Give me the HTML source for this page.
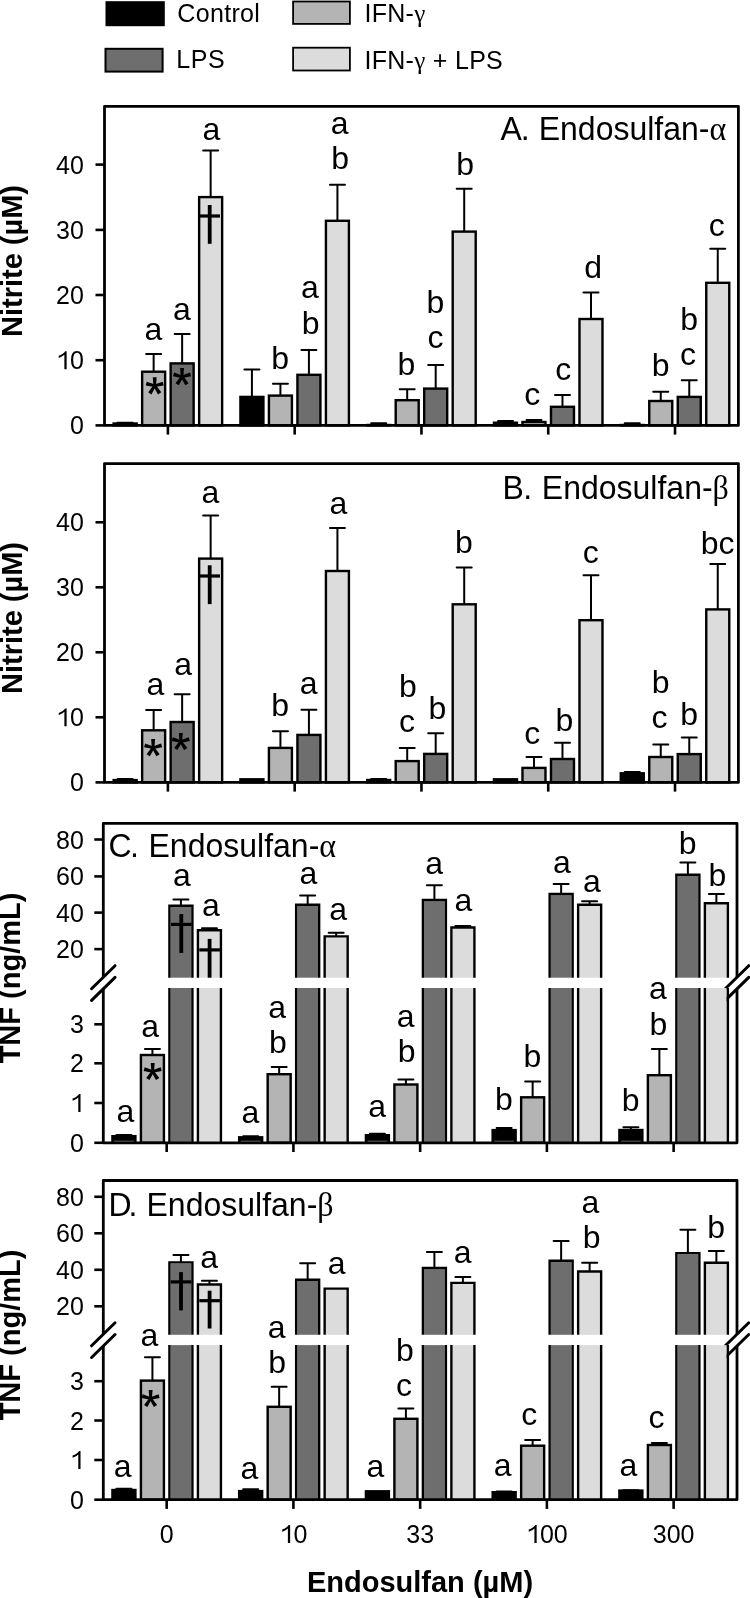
<!DOCTYPE html><html><head><meta charset="utf-8"><style>html,body{margin:0;padding:0;background:#fff;}svg{display:block;will-change:transform;}</style></head><body>
<svg width="750" height="1598" viewBox="0 0 750 1598" font-family='"Liberation Sans", sans-serif'>
<rect width="750" height="1598" fill="#fff"/>
<rect x="106.5" y="2.2" width="57.3" height="23" fill="#000" stroke="#000" stroke-width="2"/>
<rect x="105.5" y="48.8" width="57.1" height="22.8" fill="#6e6e6e" stroke="#000" stroke-width="2"/>
<rect x="293.1" y="1.5" width="56.8" height="22.4" fill="#b4b4b4" stroke="#000" stroke-width="1.8"/>
<rect x="293.1" y="47.7" width="56.8" height="22.8" fill="#dcdcdc" stroke="#000" stroke-width="1.8"/>
<text x="177.3" y="22" font-size="25" letter-spacing="0.33">Control</text>
<text x="176.3" y="68" font-size="25" letter-spacing="0.5">LPS</text>
<text x="364.4" y="22.2" font-size="25" letter-spacing="0.3">IFN-<tspan font-family="Liberation Serif, serif">γ</tspan></text>
<text x="364.4" y="69" font-size="25" letter-spacing="0.3">IFN-<tspan font-family="Liberation Serif, serif">γ</tspan> + LPS</text>
<path d="M125.14 423.5V422.8" stroke="#000" stroke-width="2" fill="none"/><path d="M117.64 422.8H132.64" stroke="#000" stroke-width="2" stroke-linecap="round" fill="none"/>
<rect x="113.64" y="423.5" width="23" height="1.9" fill="#000000" stroke="#000" stroke-width="2.4"/>
<path d="M153.64 371.7V354.1" stroke="#000" stroke-width="2" fill="none"/><path d="M146.14 354.1H161.14" stroke="#000" stroke-width="2" stroke-linecap="round" fill="none"/>
<rect x="142.14" y="371.7" width="23" height="53.7" fill="#b4b4b4" stroke="#000" stroke-width="2.4"/>
<path d="M182.14 363.4V334.1" stroke="#000" stroke-width="2" fill="none"/><path d="M174.64 334.1H189.64" stroke="#000" stroke-width="2" stroke-linecap="round" fill="none"/>
<rect x="170.64" y="363.4" width="23" height="62" fill="#6e6e6e" stroke="#000" stroke-width="2.4"/>
<path d="M210.64 197.1V150.6" stroke="#000" stroke-width="2" fill="none"/><path d="M203.14 150.6H218.14" stroke="#000" stroke-width="2" stroke-linecap="round" fill="none"/>
<rect x="199.14" y="197.1" width="23" height="228.3" fill="#dcdcdc" stroke="#000" stroke-width="2.4"/>
<path d="M251.92 396.9V369.6" stroke="#000" stroke-width="2" fill="none"/><path d="M244.42 369.6H259.42" stroke="#000" stroke-width="2" stroke-linecap="round" fill="none"/>
<rect x="240.42" y="396.9" width="23" height="28.5" fill="#000000" stroke="#000" stroke-width="2.4"/>
<path d="M280.42 395.6V383.7" stroke="#000" stroke-width="2" fill="none"/><path d="M272.92 383.7H287.92" stroke="#000" stroke-width="2" stroke-linecap="round" fill="none"/>
<rect x="268.92" y="395.6" width="23" height="29.8" fill="#b4b4b4" stroke="#000" stroke-width="2.4"/>
<path d="M308.92 374.8V350" stroke="#000" stroke-width="2" fill="none"/><path d="M301.42 350H316.42" stroke="#000" stroke-width="2" stroke-linecap="round" fill="none"/>
<rect x="297.42" y="374.8" width="23" height="50.6" fill="#6e6e6e" stroke="#000" stroke-width="2.4"/>
<path d="M337.42 220.8V184.7" stroke="#000" stroke-width="2" fill="none"/><path d="M329.92 184.7H344.92" stroke="#000" stroke-width="2" stroke-linecap="round" fill="none"/>
<rect x="325.92" y="220.8" width="23" height="204.6" fill="#dcdcdc" stroke="#000" stroke-width="2.4"/>
<path d="M378.7 425V423.2" stroke="#000" stroke-width="2" fill="none"/><path d="M371.2 423.2H386.2" stroke="#000" stroke-width="2" stroke-linecap="round" fill="none"/>
<rect x="367.2" y="425" width="23" height="0.4" fill="#000000" stroke="#000" stroke-width="2.4"/>
<path d="M407.2 400.2V389.3" stroke="#000" stroke-width="2" fill="none"/><path d="M399.7 389.3H414.7" stroke="#000" stroke-width="2" stroke-linecap="round" fill="none"/>
<rect x="395.7" y="400.2" width="23" height="25.2" fill="#b4b4b4" stroke="#000" stroke-width="2.4"/>
<path d="M435.7 388.6V365.1" stroke="#000" stroke-width="2" fill="none"/><path d="M428.2 365.1H443.2" stroke="#000" stroke-width="2" stroke-linecap="round" fill="none"/>
<rect x="424.2" y="388.6" width="23" height="36.8" fill="#6e6e6e" stroke="#000" stroke-width="2.4"/>
<path d="M464.2 231.6V188.8" stroke="#000" stroke-width="2" fill="none"/><path d="M456.7 188.8H471.7" stroke="#000" stroke-width="2" stroke-linecap="round" fill="none"/>
<rect x="452.7" y="231.6" width="23" height="193.8" fill="#dcdcdc" stroke="#000" stroke-width="2.4"/>
<path d="M505.48 422.7V421.1" stroke="#000" stroke-width="2" fill="none"/><path d="M497.98 421.1H512.98" stroke="#000" stroke-width="2" stroke-linecap="round" fill="none"/>
<rect x="493.98" y="422.7" width="23" height="2.7" fill="#000000" stroke="#000" stroke-width="2.4"/>
<path d="M533.98 422V420.1" stroke="#000" stroke-width="2" fill="none"/><path d="M526.48 420.1H541.48" stroke="#000" stroke-width="2" stroke-linecap="round" fill="none"/>
<rect x="522.48" y="422" width="23" height="3.4" fill="#b4b4b4" stroke="#000" stroke-width="2.4"/>
<path d="M562.48 406.8V395" stroke="#000" stroke-width="2" fill="none"/><path d="M554.98 395H569.98" stroke="#000" stroke-width="2" stroke-linecap="round" fill="none"/>
<rect x="550.98" y="406.8" width="23" height="18.6" fill="#6e6e6e" stroke="#000" stroke-width="2.4"/>
<path d="M590.98 319V292.6" stroke="#000" stroke-width="2" fill="none"/><path d="M583.48 292.6H598.48" stroke="#000" stroke-width="2" stroke-linecap="round" fill="none"/>
<rect x="579.48" y="319" width="23" height="106.4" fill="#dcdcdc" stroke="#000" stroke-width="2.4"/>
<path d="M632.26 425V423.2" stroke="#000" stroke-width="2" fill="none"/><path d="M624.76 423.2H639.76" stroke="#000" stroke-width="2" stroke-linecap="round" fill="none"/>
<rect x="620.76" y="425" width="23" height="0.4" fill="#000000" stroke="#000" stroke-width="2.4"/>
<path d="M660.76 401V391.7" stroke="#000" stroke-width="2" fill="none"/><path d="M653.26 391.7H668.26" stroke="#000" stroke-width="2" stroke-linecap="round" fill="none"/>
<rect x="649.26" y="401" width="23" height="24.4" fill="#b4b4b4" stroke="#000" stroke-width="2.4"/>
<path d="M689.26 396.9V380.2" stroke="#000" stroke-width="2" fill="none"/><path d="M681.76 380.2H696.76" stroke="#000" stroke-width="2" stroke-linecap="round" fill="none"/>
<rect x="677.76" y="396.9" width="23" height="28.5" fill="#6e6e6e" stroke="#000" stroke-width="2.4"/>
<path d="M717.76 282.8V248.8" stroke="#000" stroke-width="2" fill="none"/><path d="M710.26 248.8H725.26" stroke="#000" stroke-width="2" stroke-linecap="round" fill="none"/>
<rect x="706.26" y="282.8" width="23" height="142.6" fill="#dcdcdc" stroke="#000" stroke-width="2.4"/>
<text x="153.44" y="340.4" text-anchor="middle" font-size="32">a</text>
<text x="181.94" y="320.4" text-anchor="middle" font-size="32">a</text>
<text x="211.44" y="140" text-anchor="middle" font-size="32">a</text>
<text x="280.22" y="369.3" text-anchor="middle" font-size="32">b</text>
<text x="310.62" y="334.2" text-anchor="middle" font-size="32">b</text>
<text x="309.82" y="298" text-anchor="middle" font-size="32">a</text>
<text x="340.12" y="168.9" text-anchor="middle" font-size="32">b</text>
<text x="339.62" y="133.8" text-anchor="middle" font-size="32">a</text>
<text x="406.3" y="374.5" text-anchor="middle" font-size="32">b</text>
<text x="435.5" y="347.5" text-anchor="middle" font-size="32">c</text>
<text x="435.5" y="312.5" text-anchor="middle" font-size="32">b</text>
<text x="465.1" y="175.1" text-anchor="middle" font-size="32">b</text>
<text x="532.28" y="405.4" text-anchor="middle" font-size="32">c</text>
<text x="563.28" y="379.6" text-anchor="middle" font-size="32">c</text>
<text x="593.08" y="278.4" text-anchor="middle" font-size="32">d</text>
<text x="660.56" y="375.5" text-anchor="middle" font-size="32">b</text>
<text x="688.06" y="365.1" text-anchor="middle" font-size="32">c</text>
<text x="689.06" y="329.5" text-anchor="middle" font-size="32">b</text>
<text x="716.76" y="236" text-anchor="middle" font-size="32">c</text>
<polygon points="156,385.8 153.4,385.8 152.75,377.2 156.65,377.2" fill="#000"/><polygon points="155.04,387.06 154.36,384.54 162.7,381.64 163.7,385.41" fill="#000"/><polygon points="155.04,384.54 154.36,387.06 145.7,385.41 146.7,381.64" fill="#000"/><polygon points="153.61,386.51 155.79,385.09 161.24,392.29 157.97,394.41" fill="#000"/><polygon points="153.61,385.09 155.79,386.51 151.43,394.41 148.16,392.29" fill="#000"/>
<polygon points="183.35,376.7 180.75,376.7 180.1,368.1 184,368.1" fill="#000"/><polygon points="182.39,377.96 181.71,375.44 190.05,372.54 191.05,376.31" fill="#000"/><polygon points="182.39,375.44 181.71,377.96 173.05,376.31 174.05,372.54" fill="#000"/><polygon points="180.96,377.41 183.14,375.99 188.59,383.19 185.32,385.31" fill="#000"/><polygon points="180.96,375.99 183.14,377.41 178.78,385.31 175.51,383.19" fill="#000"/>
<rect x="207.8" y="205" width="3.8" height="38.8" fill="#000"/>
<rect x="199.4" y="214.4" width="20.6" height="3.2" fill="#000"/>
<rect x="104.5" y="106.4" width="633.9" height="319" fill="none" stroke="#000" stroke-width="2.8" stroke-linejoin="round"/>
<line x1="95.5" y1="425.4" x2="104.5" y2="425.4" stroke="#000" stroke-width="2.6"/>
<text x="69.9" y="434.4" font-size="25">0</text>
<line x1="95.5" y1="360.2" x2="104.5" y2="360.2" stroke="#000" stroke-width="2.6"/>
<polygon points="64.38,369.2 66.62,369.2 66.62,351.3 65.17,351.3 64.25,352.5 62.75,353.77 60.75,355 58.7,355.82 58.7,357.9 60.5,357.2 62.5,356.07 64.38,354.65" fill="#000"/><text x="69.9" y="369.2" font-size="25">0</text>
<line x1="95.5" y1="295" x2="104.5" y2="295" stroke="#000" stroke-width="2.6"/>
<text x="56" y="304" font-size="25">2</text><text x="69.9" y="304" font-size="25">0</text>
<line x1="95.5" y1="229.9" x2="104.5" y2="229.9" stroke="#000" stroke-width="2.6"/>
<text x="56" y="238.9" font-size="25">3</text><text x="69.9" y="238.9" font-size="25">0</text>
<line x1="95.5" y1="164.6" x2="104.5" y2="164.6" stroke="#000" stroke-width="2.6"/>
<text x="56" y="173.6" font-size="25">4</text><text x="69.9" y="173.6" font-size="25">0</text>
<line x1="167.89" y1="425.4" x2="167.89" y2="434.6" stroke="#000" stroke-width="2.6"/>
<line x1="294.67" y1="425.4" x2="294.67" y2="434.6" stroke="#000" stroke-width="2.6"/>
<line x1="421.45" y1="425.4" x2="421.45" y2="434.6" stroke="#000" stroke-width="2.6"/>
<line x1="548.23" y1="425.4" x2="548.23" y2="434.6" stroke="#000" stroke-width="2.6"/>
<line x1="675.01" y1="425.4" x2="675.01" y2="434.6" stroke="#000" stroke-width="2.6"/>
<text transform="translate(500.6 139.5) scale(0.97 1)" font-size="33">A</text>
<text transform="translate(520.8 139.5) scale(0.97 1)" font-size="33">.</text>
<text transform="translate(538.7 139.5) scale(0.97 1)" font-size="33">Endosulfan-<tspan font-family='Liberation Serif, serif'>α</tspan></text>
<path d="M125.14 780.1V779.1" stroke="#000" stroke-width="2" fill="none"/><path d="M117.64 779.1H132.64" stroke="#000" stroke-width="2" stroke-linecap="round" fill="none"/>
<rect x="113.64" y="780.1" width="23" height="2.3" fill="#000000" stroke="#000" stroke-width="2.4"/>
<path d="M153.64 730.3V710.1" stroke="#000" stroke-width="2" fill="none"/><path d="M146.14 710.1H161.14" stroke="#000" stroke-width="2" stroke-linecap="round" fill="none"/>
<rect x="142.14" y="730.3" width="23" height="52.1" fill="#b4b4b4" stroke="#000" stroke-width="2.4"/>
<path d="M182.14 722V694.2" stroke="#000" stroke-width="2" fill="none"/><path d="M174.64 694.2H189.64" stroke="#000" stroke-width="2" stroke-linecap="round" fill="none"/>
<rect x="170.64" y="722" width="23" height="60.4" fill="#6e6e6e" stroke="#000" stroke-width="2.4"/>
<path d="M210.64 558.6V515.5" stroke="#000" stroke-width="2" fill="none"/><path d="M203.14 515.5H218.14" stroke="#000" stroke-width="2" stroke-linecap="round" fill="none"/>
<rect x="199.14" y="558.6" width="23" height="223.8" fill="#dcdcdc" stroke="#000" stroke-width="2.4"/>
<rect x="240.42" y="779.3" width="23" height="3.1" fill="#000000" stroke="#000" stroke-width="2.4"/>
<path d="M280.42 747.9V731.2" stroke="#000" stroke-width="2" fill="none"/><path d="M272.92 731.2H287.92" stroke="#000" stroke-width="2" stroke-linecap="round" fill="none"/>
<rect x="268.92" y="747.9" width="23" height="34.5" fill="#b4b4b4" stroke="#000" stroke-width="2.4"/>
<path d="M308.92 734.9V709.7" stroke="#000" stroke-width="2" fill="none"/><path d="M301.42 709.7H316.42" stroke="#000" stroke-width="2" stroke-linecap="round" fill="none"/>
<rect x="297.42" y="734.9" width="23" height="47.5" fill="#6e6e6e" stroke="#000" stroke-width="2.4"/>
<path d="M337.42 571V527.9" stroke="#000" stroke-width="2" fill="none"/><path d="M329.92 527.9H344.92" stroke="#000" stroke-width="2" stroke-linecap="round" fill="none"/>
<rect x="325.92" y="571" width="23" height="211.4" fill="#dcdcdc" stroke="#000" stroke-width="2.4"/>
<path d="M378.7 780V779" stroke="#000" stroke-width="2" fill="none"/><path d="M371.2 779H386.2" stroke="#000" stroke-width="2" stroke-linecap="round" fill="none"/>
<rect x="367.2" y="780" width="23" height="2.4" fill="#000000" stroke="#000" stroke-width="2.4"/>
<path d="M407.2 761.1V747.9" stroke="#000" stroke-width="2" fill="none"/><path d="M399.7 747.9H414.7" stroke="#000" stroke-width="2" stroke-linecap="round" fill="none"/>
<rect x="395.7" y="761.1" width="23" height="21.3" fill="#b4b4b4" stroke="#000" stroke-width="2.4"/>
<path d="M435.7 753.9V733.2" stroke="#000" stroke-width="2" fill="none"/><path d="M428.2 733.2H443.2" stroke="#000" stroke-width="2" stroke-linecap="round" fill="none"/>
<rect x="424.2" y="753.9" width="23" height="28.5" fill="#6e6e6e" stroke="#000" stroke-width="2.4"/>
<path d="M464.2 604.3V567.5" stroke="#000" stroke-width="2" fill="none"/><path d="M456.7 567.5H471.7" stroke="#000" stroke-width="2" stroke-linecap="round" fill="none"/>
<rect x="452.7" y="604.3" width="23" height="178.1" fill="#dcdcdc" stroke="#000" stroke-width="2.4"/>
<rect x="493.98" y="779.3" width="23" height="3.1" fill="#000000" stroke="#000" stroke-width="2.4"/>
<path d="M533.98 767.9V757" stroke="#000" stroke-width="2" fill="none"/><path d="M526.48 757H541.48" stroke="#000" stroke-width="2" stroke-linecap="round" fill="none"/>
<rect x="522.48" y="767.9" width="23" height="14.5" fill="#b4b4b4" stroke="#000" stroke-width="2.4"/>
<path d="M562.48 759V742.7" stroke="#000" stroke-width="2" fill="none"/><path d="M554.98 742.7H569.98" stroke="#000" stroke-width="2" stroke-linecap="round" fill="none"/>
<rect x="550.98" y="759" width="23" height="23.4" fill="#6e6e6e" stroke="#000" stroke-width="2.4"/>
<path d="M590.98 620.2V575.2" stroke="#000" stroke-width="2" fill="none"/><path d="M583.48 575.2H598.48" stroke="#000" stroke-width="2" stroke-linecap="round" fill="none"/>
<rect x="579.48" y="620.2" width="23" height="162.2" fill="#dcdcdc" stroke="#000" stroke-width="2.4"/>
<path d="M632.26 773.3V771.9" stroke="#000" stroke-width="2" fill="none"/><path d="M624.76 771.9H639.76" stroke="#000" stroke-width="2" stroke-linecap="round" fill="none"/>
<rect x="620.76" y="773.3" width="23" height="9.1" fill="#000000" stroke="#000" stroke-width="2.4"/>
<path d="M660.76 757V744.6" stroke="#000" stroke-width="2" fill="none"/><path d="M653.26 744.6H668.26" stroke="#000" stroke-width="2" stroke-linecap="round" fill="none"/>
<rect x="649.26" y="757" width="23" height="25.4" fill="#b4b4b4" stroke="#000" stroke-width="2.4"/>
<path d="M689.26 754.1V737.4" stroke="#000" stroke-width="2" fill="none"/><path d="M681.76 737.4H696.76" stroke="#000" stroke-width="2" stroke-linecap="round" fill="none"/>
<rect x="677.76" y="754.1" width="23" height="28.3" fill="#6e6e6e" stroke="#000" stroke-width="2.4"/>
<path d="M717.76 609.4V564" stroke="#000" stroke-width="2" fill="none"/><path d="M710.26 564H725.26" stroke="#000" stroke-width="2" stroke-linecap="round" fill="none"/>
<rect x="706.26" y="609.4" width="23" height="173" fill="#dcdcdc" stroke="#000" stroke-width="2.4"/>
<text x="155.34" y="694.7" text-anchor="middle" font-size="32">a</text>
<text x="183.14" y="674.7" text-anchor="middle" font-size="32">a</text>
<text x="210.44" y="503.2" text-anchor="middle" font-size="32">a</text>
<text x="280.22" y="716" text-anchor="middle" font-size="32">b</text>
<text x="308.72" y="694.3" text-anchor="middle" font-size="32">a</text>
<text x="338.52" y="513.5" text-anchor="middle" font-size="32">a</text>
<text x="407" y="732.4" text-anchor="middle" font-size="32">c</text>
<text x="408" y="696.8" text-anchor="middle" font-size="32">b</text>
<text x="437.3" y="719.1" text-anchor="middle" font-size="32">b</text>
<text x="464" y="552.8" text-anchor="middle" font-size="32">b</text>
<text x="532.28" y="743.8" text-anchor="middle" font-size="32">c</text>
<text x="564.28" y="730.5" text-anchor="middle" font-size="32">b</text>
<text x="590.78" y="563" text-anchor="middle" font-size="32">c</text>
<text x="659.56" y="727.7" text-anchor="middle" font-size="32">c</text>
<text x="660.56" y="693.3" text-anchor="middle" font-size="32">b</text>
<text x="689.06" y="725.3" text-anchor="middle" font-size="32">b</text>
<text x="717.56" y="553.8" text-anchor="middle" font-size="32">bc</text>
<polygon points="154.4,747.7 151.8,747.7 151.15,739.1 155.05,739.1" fill="#000"/><polygon points="153.44,748.96 152.76,746.44 161.1,743.54 162.1,747.31" fill="#000"/><polygon points="153.44,746.44 152.76,748.96 144.1,747.31 145.1,743.54" fill="#000"/><polygon points="152.01,748.41 154.19,746.99 159.64,754.19 156.37,756.31" fill="#000"/><polygon points="152.01,746.99 154.19,748.41 149.83,756.31 146.56,754.19" fill="#000"/>
<polygon points="182.1,741.5 179.5,741.5 178.85,732.9 182.75,732.9" fill="#000"/><polygon points="181.14,742.76 180.46,740.24 188.8,737.34 189.8,741.11" fill="#000"/><polygon points="181.14,740.24 180.46,742.76 171.8,741.11 172.8,737.34" fill="#000"/><polygon points="179.71,742.21 181.89,740.79 187.34,747.99 184.07,750.11" fill="#000"/><polygon points="179.71,740.79 181.89,742.21 177.53,750.11 174.26,747.99" fill="#000"/>
<rect x="207.8" y="565.3" width="3.8" height="38.8" fill="#000"/>
<rect x="199.4" y="574.4" width="20.6" height="3.2" fill="#000"/>
<rect x="104.5" y="463.6" width="633.9" height="318.8" fill="none" stroke="#000" stroke-width="2.8" stroke-linejoin="round"/>
<line x1="95.5" y1="782.4" x2="104.5" y2="782.4" stroke="#000" stroke-width="2.6"/>
<text x="69.9" y="791.4" font-size="25">0</text>
<line x1="95.5" y1="717.3" x2="104.5" y2="717.3" stroke="#000" stroke-width="2.6"/>
<polygon points="64.38,726.3 66.62,726.3 66.62,708.4 65.17,708.4 64.25,709.6 62.75,710.88 60.75,712.1 58.7,712.92 58.7,715 60.5,714.3 62.5,713.17 64.38,711.75" fill="#000"/><text x="69.9" y="726.3" font-size="25">0</text>
<line x1="95.5" y1="652.3" x2="104.5" y2="652.3" stroke="#000" stroke-width="2.6"/>
<text x="56" y="661.3" font-size="25">2</text><text x="69.9" y="661.3" font-size="25">0</text>
<line x1="95.5" y1="587.3" x2="104.5" y2="587.3" stroke="#000" stroke-width="2.6"/>
<text x="56" y="596.3" font-size="25">3</text><text x="69.9" y="596.3" font-size="25">0</text>
<line x1="95.5" y1="522.3" x2="104.5" y2="522.3" stroke="#000" stroke-width="2.6"/>
<text x="56" y="531.3" font-size="25">4</text><text x="69.9" y="531.3" font-size="25">0</text>
<line x1="167.89" y1="782.4" x2="167.89" y2="791.6" stroke="#000" stroke-width="2.6"/>
<line x1="294.67" y1="782.4" x2="294.67" y2="791.6" stroke="#000" stroke-width="2.6"/>
<line x1="421.45" y1="782.4" x2="421.45" y2="791.6" stroke="#000" stroke-width="2.6"/>
<line x1="548.23" y1="782.4" x2="548.23" y2="791.6" stroke="#000" stroke-width="2.6"/>
<line x1="675.01" y1="782.4" x2="675.01" y2="791.6" stroke="#000" stroke-width="2.6"/>
<text transform="translate(502.4 498.8) scale(0.97 1)" font-size="33">B</text>
<text transform="translate(523.2 498.8) scale(0.97 1)" font-size="33">.</text>
<text transform="translate(541.8 498.8) scale(0.97 1)" font-size="33">Endosulfan-<tspan font-family='Liberation Serif, serif'>β</tspan></text>
<line x1="91.55" y1="988.7" x2="115.05" y2="965.7" stroke="#000" stroke-width="3" stroke-linecap="round"/>
<line x1="91.55" y1="1000.4" x2="115.05" y2="977.4" stroke="#000" stroke-width="3" stroke-linecap="round"/>
<line x1="725.25" y1="988.7" x2="748.75" y2="965.7" stroke="#000" stroke-width="3" stroke-linecap="round"/>
<line x1="725.25" y1="1000.4" x2="748.75" y2="977.4" stroke="#000" stroke-width="3" stroke-linecap="round"/>
<path d="M123.92 1136.2V1135" stroke="#000" stroke-width="2" fill="none"/><path d="M116.42 1135H131.42" stroke="#000" stroke-width="2" stroke-linecap="round" fill="none"/>
<rect x="112.42" y="1136.2" width="23" height="6.6" fill="#000000" stroke="#000" stroke-width="2.4"/>
<rect x="114.02" y="1140.8" width="19.8" height="0.9" fill="#aaa"/>
<path d="M152.42 1055V1049" stroke="#000" stroke-width="2" fill="none"/><path d="M144.92 1049H159.92" stroke="#000" stroke-width="2" stroke-linecap="round" fill="none"/>
<rect x="140.92" y="1055" width="23" height="87.8" fill="#b4b4b4" stroke="#000" stroke-width="2.4"/>
<path d="M180.92 905.8V899.6" stroke="#000" stroke-width="2" fill="none"/><path d="M173.42 899.6H188.42" stroke="#000" stroke-width="2" stroke-linecap="round" fill="none"/>
<rect x="170.62" y="907" width="20.6" height="70.7" fill="#6e6e6e"/>
<rect x="170.62" y="988" width="20.6" height="154.8" fill="#6e6e6e"/>
<path d="M169.42 977.7V905.8H192.42V977.7" fill="none" stroke="#000" stroke-width="2.4"/>
<path d="M169.42 988V1142.8M192.42 988V1142.8" fill="none" stroke="#000" stroke-width="2.4"/>
<path d="M209.42 930.3V928.3" stroke="#000" stroke-width="2" fill="none"/><path d="M201.92 928.3H216.92" stroke="#000" stroke-width="2" stroke-linecap="round" fill="none"/>
<rect x="199.12" y="931.5" width="20.6" height="46.2" fill="#dcdcdc"/>
<rect x="199.12" y="988" width="20.6" height="154.8" fill="#dcdcdc"/>
<path d="M197.92 977.7V930.3H220.92V977.7" fill="none" stroke="#000" stroke-width="2.4"/>
<path d="M197.92 988V1142.8M220.92 988V1142.8" fill="none" stroke="#000" stroke-width="2.4"/>
<path d="M250.66 1137.3V1136.2" stroke="#000" stroke-width="2" fill="none"/><path d="M243.16 1136.2H258.16" stroke="#000" stroke-width="2" stroke-linecap="round" fill="none"/>
<rect x="239.16" y="1137.3" width="23" height="5.5" fill="#000000" stroke="#000" stroke-width="2.4"/>
<rect x="240.76" y="1140.8" width="19.8" height="0.9" fill="#aaa"/>
<path d="M279.16 1074.2V1067" stroke="#000" stroke-width="2" fill="none"/><path d="M271.66 1067H286.66" stroke="#000" stroke-width="2" stroke-linecap="round" fill="none"/>
<rect x="267.66" y="1074.2" width="23" height="68.6" fill="#b4b4b4" stroke="#000" stroke-width="2.4"/>
<path d="M307.66 904.8V895.5" stroke="#000" stroke-width="2" fill="none"/><path d="M300.16 895.5H315.16" stroke="#000" stroke-width="2" stroke-linecap="round" fill="none"/>
<rect x="297.36" y="906" width="20.6" height="71.7" fill="#6e6e6e"/>
<rect x="297.36" y="988" width="20.6" height="154.8" fill="#6e6e6e"/>
<path d="M296.16 977.7V904.8H319.16V977.7" fill="none" stroke="#000" stroke-width="2.4"/>
<path d="M296.16 988V1142.8M319.16 988V1142.8" fill="none" stroke="#000" stroke-width="2.4"/>
<path d="M336.16 936.4V932.7" stroke="#000" stroke-width="2" fill="none"/><path d="M328.66 932.7H343.66" stroke="#000" stroke-width="2" stroke-linecap="round" fill="none"/>
<rect x="325.86" y="937.6" width="20.6" height="40.1" fill="#dcdcdc"/>
<rect x="325.86" y="988" width="20.6" height="154.8" fill="#dcdcdc"/>
<path d="M324.66 977.7V936.4H347.66V977.7" fill="none" stroke="#000" stroke-width="2.4"/>
<path d="M324.66 988V1142.8M347.66 988V1142.8" fill="none" stroke="#000" stroke-width="2.4"/>
<path d="M377.4 1135.2V1133.7" stroke="#000" stroke-width="2" fill="none"/><path d="M369.9 1133.7H384.9" stroke="#000" stroke-width="2" stroke-linecap="round" fill="none"/>
<rect x="365.9" y="1135.2" width="23" height="7.6" fill="#000000" stroke="#000" stroke-width="2.4"/>
<rect x="367.5" y="1140.8" width="19.8" height="0.9" fill="#aaa"/>
<path d="M405.9 1084.5V1079.4" stroke="#000" stroke-width="2" fill="none"/><path d="M398.4 1079.4H413.4" stroke="#000" stroke-width="2" stroke-linecap="round" fill="none"/>
<rect x="394.4" y="1084.5" width="23" height="58.3" fill="#b4b4b4" stroke="#000" stroke-width="2.4"/>
<path d="M434.4 900V885.2" stroke="#000" stroke-width="2" fill="none"/><path d="M426.9 885.2H441.9" stroke="#000" stroke-width="2" stroke-linecap="round" fill="none"/>
<rect x="424.1" y="901.2" width="20.6" height="76.5" fill="#6e6e6e"/>
<rect x="424.1" y="988" width="20.6" height="154.8" fill="#6e6e6e"/>
<path d="M422.9 977.7V900H445.9V977.7" fill="none" stroke="#000" stroke-width="2.4"/>
<path d="M422.9 988V1142.8M445.9 988V1142.8" fill="none" stroke="#000" stroke-width="2.4"/>
<path d="M462.9 927.5V925.9" stroke="#000" stroke-width="2" fill="none"/><path d="M455.4 925.9H470.4" stroke="#000" stroke-width="2" stroke-linecap="round" fill="none"/>
<rect x="452.6" y="928.7" width="20.6" height="49" fill="#dcdcdc"/>
<rect x="452.6" y="988" width="20.6" height="154.8" fill="#dcdcdc"/>
<path d="M451.4 977.7V927.5H474.4V977.7" fill="none" stroke="#000" stroke-width="2.4"/>
<path d="M451.4 988V1142.8M474.4 988V1142.8" fill="none" stroke="#000" stroke-width="2.4"/>
<path d="M504.14 1130.1V1128" stroke="#000" stroke-width="2" fill="none"/><path d="M496.64 1128H511.64" stroke="#000" stroke-width="2" stroke-linecap="round" fill="none"/>
<rect x="492.64" y="1130.1" width="23" height="12.7" fill="#000000" stroke="#000" stroke-width="2.4"/>
<rect x="494.24" y="1140.8" width="19.8" height="0.9" fill="#aaa"/>
<path d="M532.64 1097.3V1081.5" stroke="#000" stroke-width="2" fill="none"/><path d="M525.14 1081.5H540.14" stroke="#000" stroke-width="2" stroke-linecap="round" fill="none"/>
<rect x="521.14" y="1097.3" width="23" height="45.5" fill="#b4b4b4" stroke="#000" stroke-width="2.4"/>
<path d="M561.14 894V884.1" stroke="#000" stroke-width="2" fill="none"/><path d="M553.64 884.1H568.64" stroke="#000" stroke-width="2" stroke-linecap="round" fill="none"/>
<rect x="550.84" y="895.2" width="20.6" height="82.5" fill="#6e6e6e"/>
<rect x="550.84" y="988" width="20.6" height="154.8" fill="#6e6e6e"/>
<path d="M549.64 977.7V894H572.64V977.7" fill="none" stroke="#000" stroke-width="2.4"/>
<path d="M549.64 988V1142.8M572.64 988V1142.8" fill="none" stroke="#000" stroke-width="2.4"/>
<path d="M589.64 904.8V901.3" stroke="#000" stroke-width="2" fill="none"/><path d="M582.14 901.3H597.14" stroke="#000" stroke-width="2" stroke-linecap="round" fill="none"/>
<rect x="579.34" y="906" width="20.6" height="71.7" fill="#dcdcdc"/>
<rect x="579.34" y="988" width="20.6" height="154.8" fill="#dcdcdc"/>
<path d="M578.14 977.7V904.8H601.14V977.7" fill="none" stroke="#000" stroke-width="2.4"/>
<path d="M578.14 988V1142.8M601.14 988V1142.8" fill="none" stroke="#000" stroke-width="2.4"/>
<path d="M630.88 1130V1127.2" stroke="#000" stroke-width="2" fill="none"/><path d="M623.38 1127.2H638.38" stroke="#000" stroke-width="2" stroke-linecap="round" fill="none"/>
<rect x="619.38" y="1130" width="23" height="12.8" fill="#000000" stroke="#000" stroke-width="2.4"/>
<rect x="620.98" y="1140.8" width="19.8" height="0.9" fill="#aaa"/>
<path d="M659.38 1075.2V1049" stroke="#000" stroke-width="2" fill="none"/><path d="M651.88 1049H666.88" stroke="#000" stroke-width="2" stroke-linecap="round" fill="none"/>
<rect x="647.88" y="1075.2" width="23" height="67.6" fill="#b4b4b4" stroke="#000" stroke-width="2.4"/>
<path d="M687.88 874.8V862.5" stroke="#000" stroke-width="2" fill="none"/><path d="M680.38 862.5H695.38" stroke="#000" stroke-width="2" stroke-linecap="round" fill="none"/>
<rect x="677.58" y="876" width="20.6" height="101.7" fill="#6e6e6e"/>
<rect x="677.58" y="988" width="20.6" height="154.8" fill="#6e6e6e"/>
<path d="M676.38 977.7V874.8H699.38V977.7" fill="none" stroke="#000" stroke-width="2.4"/>
<path d="M676.38 988V1142.8M699.38 988V1142.8" fill="none" stroke="#000" stroke-width="2.4"/>
<path d="M716.38 903.3V893.9" stroke="#000" stroke-width="2" fill="none"/><path d="M708.88 893.9H723.88" stroke="#000" stroke-width="2" stroke-linecap="round" fill="none"/>
<rect x="706.08" y="904.5" width="20.6" height="73.2" fill="#dcdcdc"/>
<rect x="706.08" y="988" width="20.6" height="154.8" fill="#dcdcdc"/>
<path d="M704.88 977.7V903.3H727.88V977.7" fill="none" stroke="#000" stroke-width="2.4"/>
<path d="M704.88 988V1142.8M727.88 988V1142.8" fill="none" stroke="#000" stroke-width="2.4"/>
<text x="125.32" y="1121.5" text-anchor="middle" font-size="32">a</text>
<text x="150.12" y="1037.4" text-anchor="middle" font-size="32">a</text>
<text x="181.82" y="885.9" text-anchor="middle" font-size="32">a</text>
<text x="211.02" y="915.9" text-anchor="middle" font-size="32">a</text>
<text x="250.46" y="1122.5" text-anchor="middle" font-size="32">a</text>
<text x="277.96" y="1053.3" text-anchor="middle" font-size="32">b</text>
<text x="277.06" y="1018.1" text-anchor="middle" font-size="32">a</text>
<text x="308.46" y="883.8" text-anchor="middle" font-size="32">a</text>
<text x="338.16" y="920" text-anchor="middle" font-size="32">a</text>
<text x="377.2" y="1117.3" text-anchor="middle" font-size="32">a</text>
<text x="406.6" y="1062.2" text-anchor="middle" font-size="32">b</text>
<text x="405.7" y="1027.4" text-anchor="middle" font-size="32">a</text>
<text x="434.2" y="873.5" text-anchor="middle" font-size="32">a</text>
<text x="463.5" y="911.3" text-anchor="middle" font-size="32">a</text>
<text x="503.94" y="1110.1" text-anchor="middle" font-size="32">b</text>
<text x="532.44" y="1066.7" text-anchor="middle" font-size="32">b</text>
<text x="561.94" y="872.5" text-anchor="middle" font-size="32">a</text>
<text x="591.94" y="891.5" text-anchor="middle" font-size="32">a</text>
<text x="630.68" y="1111.1" text-anchor="middle" font-size="32">b</text>
<text x="658.28" y="1034.7" text-anchor="middle" font-size="32">b</text>
<text x="657.88" y="998.5" text-anchor="middle" font-size="32">a</text>
<text x="687.68" y="853.9" text-anchor="middle" font-size="32">b</text>
<text x="717.38" y="885.9" text-anchor="middle" font-size="32">b</text>
<polygon points="154,1071.5 151.4,1071.5 150.75,1062.9 154.65,1062.9" fill="#000"/><polygon points="153.04,1072.76 152.36,1070.24 160.7,1067.34 161.7,1071.11" fill="#000"/><polygon points="153.04,1070.24 152.36,1072.76 143.7,1071.11 144.7,1067.34" fill="#000"/><polygon points="151.61,1072.21 153.79,1070.79 159.24,1077.99 155.97,1080.11" fill="#000"/><polygon points="151.61,1070.79 153.79,1072.21 149.43,1080.11 146.16,1077.99" fill="#000"/>
<rect x="179.4" y="914.1" width="3.8" height="38.9" fill="#000"/>
<rect x="171" y="922.8" width="20.6" height="3.2" fill="#000"/>
<rect x="207.7" y="938.9" width="3.8" height="38.8" fill="#000"/>
<rect x="199.3" y="948.3" width="20.6" height="3.2" fill="#000"/>
<path d="M103.3 977.2V823.4H737V977.2" fill="none" stroke="#000" stroke-width="2.8" stroke-linejoin="round"/>
<path d="M103.3 988.9V1142.8H737V988.9" fill="none" stroke="#000" stroke-width="2.8" stroke-linejoin="round"/>
<line x1="94.3" y1="1142.8" x2="103.3" y2="1142.8" stroke="#000" stroke-width="2.6"/>
<text x="69.9" y="1151.8" font-size="25">0</text>
<line x1="94.3" y1="1103" x2="103.3" y2="1103" stroke="#000" stroke-width="2.6"/>
<polygon points="78.27,1112 80.52,1112 80.52,1094.1 79.07,1094.1 78.15,1095.3 76.65,1096.58 74.65,1097.8 72.6,1098.62 72.6,1100.7 74.4,1100 76.4,1098.88 78.27,1097.45" fill="#000"/>
<line x1="94.3" y1="1063.3" x2="103.3" y2="1063.3" stroke="#000" stroke-width="2.6"/>
<text x="69.9" y="1072.3" font-size="25">2</text>
<line x1="94.3" y1="1024.3" x2="103.3" y2="1024.3" stroke="#000" stroke-width="2.6"/>
<text x="69.9" y="1033.3" font-size="25">3</text>
<line x1="94.3" y1="949.1" x2="103.3" y2="949.1" stroke="#000" stroke-width="2.6"/>
<text x="56" y="958.1" font-size="25">2</text><text x="69.9" y="958.1" font-size="25">0</text>
<line x1="94.3" y1="912.6" x2="103.3" y2="912.6" stroke="#000" stroke-width="2.6"/>
<text x="56" y="921.6" font-size="25">4</text><text x="69.9" y="921.6" font-size="25">0</text>
<line x1="94.3" y1="876.4" x2="103.3" y2="876.4" stroke="#000" stroke-width="2.6"/>
<text x="56" y="885.4" font-size="25">6</text><text x="69.9" y="885.4" font-size="25">0</text>
<line x1="94.3" y1="839.5" x2="103.3" y2="839.5" stroke="#000" stroke-width="2.6"/>
<text x="56" y="848.5" font-size="25">8</text><text x="69.9" y="848.5" font-size="25">0</text>
<line x1="166.67" y1="1142.8" x2="166.67" y2="1152" stroke="#000" stroke-width="2.6"/>
<line x1="293.41" y1="1142.8" x2="293.41" y2="1152" stroke="#000" stroke-width="2.6"/>
<line x1="420.15" y1="1142.8" x2="420.15" y2="1152" stroke="#000" stroke-width="2.6"/>
<line x1="546.89" y1="1142.8" x2="546.89" y2="1152" stroke="#000" stroke-width="2.6"/>
<line x1="673.63" y1="1142.8" x2="673.63" y2="1152" stroke="#000" stroke-width="2.6"/>
<text transform="translate(108.6 856.6) scale(0.97 1)" font-size="33">C</text>
<text transform="translate(130.1 856.6) scale(0.97 1)" font-size="33">.</text>
<text transform="translate(148.5 856.6) scale(0.97 1)" font-size="33">Endosulfan-<tspan font-family='Liberation Serif, serif'>α</tspan></text>
<line x1="91.55" y1="1345.8" x2="115.05" y2="1322.8" stroke="#000" stroke-width="3" stroke-linecap="round"/>
<line x1="91.55" y1="1357.5" x2="115.05" y2="1334.5" stroke="#000" stroke-width="3" stroke-linecap="round"/>
<line x1="725.25" y1="1345.8" x2="748.75" y2="1322.8" stroke="#000" stroke-width="3" stroke-linecap="round"/>
<line x1="725.25" y1="1357.5" x2="748.75" y2="1334.5" stroke="#000" stroke-width="3" stroke-linecap="round"/>
<path d="M123.92 1490V1488.7" stroke="#000" stroke-width="2" fill="none"/><path d="M116.42 1488.7H131.42" stroke="#000" stroke-width="2" stroke-linecap="round" fill="none"/>
<rect x="112.42" y="1490" width="23" height="9.7" fill="#000000" stroke="#000" stroke-width="2.4"/>
<path d="M152.42 1380.6V1357.3" stroke="#000" stroke-width="2" fill="none"/><path d="M144.92 1357.3H159.92" stroke="#000" stroke-width="2" stroke-linecap="round" fill="none"/>
<rect x="140.92" y="1380.6" width="23" height="119.1" fill="#b4b4b4" stroke="#000" stroke-width="2.4"/>
<path d="M180.92 1262.4V1255" stroke="#000" stroke-width="2" fill="none"/><path d="M173.42 1255H188.42" stroke="#000" stroke-width="2" stroke-linecap="round" fill="none"/>
<rect x="170.62" y="1263.6" width="20.6" height="71.2" fill="#6e6e6e"/>
<rect x="170.62" y="1345.1" width="20.6" height="154.6" fill="#6e6e6e"/>
<path d="M169.42 1334.8V1262.4H192.42V1334.8" fill="none" stroke="#000" stroke-width="2.4"/>
<path d="M169.42 1345.1V1499.7M192.42 1345.1V1499.7" fill="none" stroke="#000" stroke-width="2.4"/>
<path d="M209.42 1284.5V1280.8" stroke="#000" stroke-width="2" fill="none"/><path d="M201.92 1280.8H216.92" stroke="#000" stroke-width="2" stroke-linecap="round" fill="none"/>
<rect x="199.12" y="1285.7" width="20.6" height="49.1" fill="#dcdcdc"/>
<rect x="199.12" y="1345.1" width="20.6" height="154.6" fill="#dcdcdc"/>
<path d="M197.92 1334.8V1284.5H220.92V1334.8" fill="none" stroke="#000" stroke-width="2.4"/>
<path d="M197.92 1345.1V1499.7M220.92 1345.1V1499.7" fill="none" stroke="#000" stroke-width="2.4"/>
<path d="M250.66 1491.1V1489.3" stroke="#000" stroke-width="2" fill="none"/><path d="M243.16 1489.3H258.16" stroke="#000" stroke-width="2" stroke-linecap="round" fill="none"/>
<rect x="239.16" y="1491.1" width="23" height="8.6" fill="#000000" stroke="#000" stroke-width="2.4"/>
<path d="M279.16 1406.8V1386.8" stroke="#000" stroke-width="2" fill="none"/><path d="M271.66 1386.8H286.66" stroke="#000" stroke-width="2" stroke-linecap="round" fill="none"/>
<rect x="267.66" y="1406.8" width="23" height="92.9" fill="#b4b4b4" stroke="#000" stroke-width="2.4"/>
<path d="M307.66 1279.8V1263.3" stroke="#000" stroke-width="2" fill="none"/><path d="M300.16 1263.3H315.16" stroke="#000" stroke-width="2" stroke-linecap="round" fill="none"/>
<rect x="297.36" y="1281" width="20.6" height="53.8" fill="#6e6e6e"/>
<rect x="297.36" y="1345.1" width="20.6" height="154.6" fill="#6e6e6e"/>
<path d="M296.16 1334.8V1279.8H319.16V1334.8" fill="none" stroke="#000" stroke-width="2.4"/>
<path d="M296.16 1345.1V1499.7M319.16 1345.1V1499.7" fill="none" stroke="#000" stroke-width="2.4"/>
<rect x="325.86" y="1289.8" width="20.6" height="45" fill="#dcdcdc"/>
<rect x="325.86" y="1345.1" width="20.6" height="154.6" fill="#dcdcdc"/>
<path d="M324.66 1334.8V1288.6H347.66V1334.8" fill="none" stroke="#000" stroke-width="2.4"/>
<path d="M324.66 1345.1V1499.7M347.66 1345.1V1499.7" fill="none" stroke="#000" stroke-width="2.4"/>
<rect x="365.9" y="1491.3" width="23" height="8.4" fill="#000000" stroke="#000" stroke-width="2.4"/>
<path d="M405.9 1418.8V1408.5" stroke="#000" stroke-width="2" fill="none"/><path d="M398.4 1408.5H413.4" stroke="#000" stroke-width="2" stroke-linecap="round" fill="none"/>
<rect x="394.4" y="1418.8" width="23" height="80.9" fill="#b4b4b4" stroke="#000" stroke-width="2.4"/>
<path d="M434.4 1268V1252.1" stroke="#000" stroke-width="2" fill="none"/><path d="M426.9 1252.1H441.9" stroke="#000" stroke-width="2" stroke-linecap="round" fill="none"/>
<rect x="424.1" y="1269.2" width="20.6" height="65.6" fill="#6e6e6e"/>
<rect x="424.1" y="1345.1" width="20.6" height="154.6" fill="#6e6e6e"/>
<path d="M422.9 1334.8V1268H445.9V1334.8" fill="none" stroke="#000" stroke-width="2.4"/>
<path d="M422.9 1345.1V1499.7M445.9 1345.1V1499.7" fill="none" stroke="#000" stroke-width="2.4"/>
<path d="M462.9 1282.9V1276.9" stroke="#000" stroke-width="2" fill="none"/><path d="M455.4 1276.9H470.4" stroke="#000" stroke-width="2" stroke-linecap="round" fill="none"/>
<rect x="452.6" y="1284.1" width="20.6" height="50.7" fill="#dcdcdc"/>
<rect x="452.6" y="1345.1" width="20.6" height="154.6" fill="#dcdcdc"/>
<path d="M451.4 1334.8V1282.9H474.4V1334.8" fill="none" stroke="#000" stroke-width="2.4"/>
<path d="M451.4 1345.1V1499.7M474.4 1345.1V1499.7" fill="none" stroke="#000" stroke-width="2.4"/>
<path d="M504.14 1492.2V1491.6" stroke="#000" stroke-width="2" fill="none"/><path d="M496.64 1491.6H511.64" stroke="#000" stroke-width="2" stroke-linecap="round" fill="none"/>
<rect x="492.64" y="1492.2" width="23" height="7.5" fill="#000000" stroke="#000" stroke-width="2.4"/>
<path d="M532.64 1445.7V1440.1" stroke="#000" stroke-width="2" fill="none"/><path d="M525.14 1440.1H540.14" stroke="#000" stroke-width="2" stroke-linecap="round" fill="none"/>
<rect x="521.14" y="1445.7" width="23" height="54" fill="#b4b4b4" stroke="#000" stroke-width="2.4"/>
<path d="M561.14 1260.7V1241.1" stroke="#000" stroke-width="2" fill="none"/><path d="M553.64 1241.1H568.64" stroke="#000" stroke-width="2" stroke-linecap="round" fill="none"/>
<rect x="550.84" y="1261.9" width="20.6" height="72.9" fill="#6e6e6e"/>
<rect x="550.84" y="1345.1" width="20.6" height="154.6" fill="#6e6e6e"/>
<path d="M549.64 1334.8V1260.7H572.64V1334.8" fill="none" stroke="#000" stroke-width="2.4"/>
<path d="M549.64 1345.1V1499.7M572.64 1345.1V1499.7" fill="none" stroke="#000" stroke-width="2.4"/>
<path d="M589.64 1271.5V1262.8" stroke="#000" stroke-width="2" fill="none"/><path d="M582.14 1262.8H597.14" stroke="#000" stroke-width="2" stroke-linecap="round" fill="none"/>
<rect x="579.34" y="1272.7" width="20.6" height="62.1" fill="#dcdcdc"/>
<rect x="579.34" y="1345.1" width="20.6" height="154.6" fill="#dcdcdc"/>
<path d="M578.14 1334.8V1271.5H601.14V1334.8" fill="none" stroke="#000" stroke-width="2.4"/>
<path d="M578.14 1345.1V1499.7M601.14 1345.1V1499.7" fill="none" stroke="#000" stroke-width="2.4"/>
<path d="M630.88 1490.6V1490.2" stroke="#000" stroke-width="2" fill="none"/><path d="M623.38 1490.2H638.38" stroke="#000" stroke-width="2" stroke-linecap="round" fill="none"/>
<rect x="619.38" y="1490.6" width="23" height="9.1" fill="#000000" stroke="#000" stroke-width="2.4"/>
<path d="M659.38 1445V1443" stroke="#000" stroke-width="2" fill="none"/><path d="M651.88 1443H666.88" stroke="#000" stroke-width="2" stroke-linecap="round" fill="none"/>
<rect x="647.88" y="1445" width="23" height="54.7" fill="#b4b4b4" stroke="#000" stroke-width="2.4"/>
<path d="M687.88 1253.1V1229.8" stroke="#000" stroke-width="2" fill="none"/><path d="M680.38 1229.8H695.38" stroke="#000" stroke-width="2" stroke-linecap="round" fill="none"/>
<rect x="677.58" y="1254.3" width="20.6" height="80.5" fill="#6e6e6e"/>
<rect x="677.58" y="1345.1" width="20.6" height="154.6" fill="#6e6e6e"/>
<path d="M676.38 1334.8V1253.1H699.38V1334.8" fill="none" stroke="#000" stroke-width="2.4"/>
<path d="M676.38 1345.1V1499.7M699.38 1345.1V1499.7" fill="none" stroke="#000" stroke-width="2.4"/>
<path d="M716.38 1262.8V1250.9" stroke="#000" stroke-width="2" fill="none"/><path d="M708.88 1250.9H723.88" stroke="#000" stroke-width="2" stroke-linecap="round" fill="none"/>
<rect x="706.08" y="1264" width="20.6" height="70.8" fill="#dcdcdc"/>
<rect x="706.08" y="1345.1" width="20.6" height="154.6" fill="#dcdcdc"/>
<path d="M704.88 1334.8V1262.8H727.88V1334.8" fill="none" stroke="#000" stroke-width="2.4"/>
<path d="M704.88 1345.1V1499.7M727.88 1345.1V1499.7" fill="none" stroke="#000" stroke-width="2.4"/>
<text x="122.62" y="1477" text-anchor="middle" font-size="32">a</text>
<text x="149.52" y="1346.2" text-anchor="middle" font-size="32">a</text>
<text x="209.22" y="1268.3" text-anchor="middle" font-size="32">a</text>
<text x="249.46" y="1478.5" text-anchor="middle" font-size="32">a</text>
<text x="277.26" y="1373.1" text-anchor="middle" font-size="32">b</text>
<text x="276.76" y="1338" text-anchor="middle" font-size="32">a</text>
<text x="336.76" y="1273.9" text-anchor="middle" font-size="32">a</text>
<text x="375.3" y="1476.8" text-anchor="middle" font-size="32">a</text>
<text x="404" y="1395.7" text-anchor="middle" font-size="32">c</text>
<text x="405" y="1360.7" text-anchor="middle" font-size="32">b</text>
<text x="462.7" y="1263" text-anchor="middle" font-size="32">a</text>
<text x="502.64" y="1476.4" text-anchor="middle" font-size="32">a</text>
<text x="529.34" y="1424.6" text-anchor="middle" font-size="32">c</text>
<text x="591.64" y="1248.1" text-anchor="middle" font-size="32">b</text>
<text x="590.34" y="1212.5" text-anchor="middle" font-size="32">a</text>
<text x="628.28" y="1475.8" text-anchor="middle" font-size="32">a</text>
<text x="656.38" y="1427.7" text-anchor="middle" font-size="32">c</text>
<text x="716.18" y="1237.7" text-anchor="middle" font-size="32">b</text>
<polygon points="151.9,1398.5 149.3,1398.5 148.65,1389.9 152.55,1389.9" fill="#000"/><polygon points="150.94,1399.76 150.26,1397.24 158.6,1394.34 159.6,1398.11" fill="#000"/><polygon points="150.94,1397.24 150.26,1399.76 141.6,1398.11 142.6,1394.34" fill="#000"/><polygon points="149.51,1399.21 151.69,1397.79 157.14,1404.99 153.87,1407.11" fill="#000"/><polygon points="149.51,1397.79 151.69,1399.21 147.33,1407.11 144.06,1404.99" fill="#000"/>
<rect x="179.1" y="1272.1" width="3.8" height="38.3" fill="#000"/>
<rect x="170.7" y="1280.3" width="20.6" height="3.2" fill="#000"/>
<rect x="207.7" y="1290.7" width="3.8" height="37.8" fill="#000"/>
<rect x="199.3" y="1299.1" width="20.6" height="3.2" fill="#000"/>
<path d="M103.3 1334.3V1180.5H737V1334.3" fill="none" stroke="#000" stroke-width="2.8" stroke-linejoin="round"/>
<path d="M103.3 1346V1499.7H737V1346" fill="none" stroke="#000" stroke-width="2.8" stroke-linejoin="round"/>
<line x1="94.3" y1="1499.7" x2="103.3" y2="1499.7" stroke="#000" stroke-width="2.6"/>
<text x="69.9" y="1508.7" font-size="25">0</text>
<line x1="94.3" y1="1460" x2="103.3" y2="1460" stroke="#000" stroke-width="2.6"/>
<polygon points="78.27,1469 80.52,1469 80.52,1451.1 79.07,1451.1 78.15,1452.3 76.65,1453.58 74.65,1454.8 72.6,1455.62 72.6,1457.7 74.4,1457 76.4,1455.88 78.27,1454.45" fill="#000"/>
<line x1="94.3" y1="1420.5" x2="103.3" y2="1420.5" stroke="#000" stroke-width="2.6"/>
<text x="69.9" y="1429.5" font-size="25">2</text>
<line x1="94.3" y1="1381.2" x2="103.3" y2="1381.2" stroke="#000" stroke-width="2.6"/>
<text x="69.9" y="1390.2" font-size="25">3</text>
<line x1="94.3" y1="1306.3" x2="103.3" y2="1306.3" stroke="#000" stroke-width="2.6"/>
<text x="56" y="1315.3" font-size="25">2</text><text x="69.9" y="1315.3" font-size="25">0</text>
<line x1="94.3" y1="1269.8" x2="103.3" y2="1269.8" stroke="#000" stroke-width="2.6"/>
<text x="56" y="1278.8" font-size="25">4</text><text x="69.9" y="1278.8" font-size="25">0</text>
<line x1="94.3" y1="1233.3" x2="103.3" y2="1233.3" stroke="#000" stroke-width="2.6"/>
<text x="56" y="1242.3" font-size="25">6</text><text x="69.9" y="1242.3" font-size="25">0</text>
<line x1="94.3" y1="1196.8" x2="103.3" y2="1196.8" stroke="#000" stroke-width="2.6"/>
<text x="56" y="1205.8" font-size="25">8</text><text x="69.9" y="1205.8" font-size="25">0</text>
<line x1="166.67" y1="1499.7" x2="166.67" y2="1508.9" stroke="#000" stroke-width="2.6"/>
<line x1="293.41" y1="1499.7" x2="293.41" y2="1508.9" stroke="#000" stroke-width="2.6"/>
<line x1="420.15" y1="1499.7" x2="420.15" y2="1508.9" stroke="#000" stroke-width="2.6"/>
<line x1="546.89" y1="1499.7" x2="546.89" y2="1508.9" stroke="#000" stroke-width="2.6"/>
<line x1="673.63" y1="1499.7" x2="673.63" y2="1508.9" stroke="#000" stroke-width="2.6"/>
<text transform="translate(108.5 1215.5) scale(0.97 1)" font-size="33">D</text>
<text transform="translate(128.5 1215.5) scale(0.97 1)" font-size="33">.</text>
<text transform="translate(146.5 1215.5) scale(0.97 1)" font-size="33">Endosulfan-<tspan font-family='Liberation Serif, serif'>β</tspan></text>
<text transform="translate(22.3 261) rotate(-90)" text-anchor="middle" font-size="29" font-weight="bold">Nitrite (µM)</text>
<text transform="translate(22.3 618) rotate(-90)" text-anchor="middle" font-size="29" font-weight="bold">Nitrite (µM)</text>
<text transform="translate(20.3 978) rotate(-90)" text-anchor="middle" font-size="29" font-weight="bold">TNF (ng/mL)</text>
<text transform="translate(20.3 1335) rotate(-90)" text-anchor="middle" font-size="29" font-weight="bold">TNF (ng/mL)</text>
<text x="159.72" y="1543" font-size="25">0</text>
<polygon points="287.89,1543 290.14,1543 290.14,1525.1 288.69,1525.1 287.76,1526.3 286.26,1527.58 284.26,1528.8 282.21,1529.62 282.21,1531.7 284.01,1531 286.01,1529.88 287.89,1528.45" fill="#000"/><text x="293.41" y="1543" font-size="25">0</text>
<text x="406.25" y="1543" font-size="25">3</text><text x="420.15" y="1543" font-size="25">3</text>
<polygon points="534.41,1543 536.66,1543 536.66,1525.1 535.21,1525.1 534.29,1526.3 532.79,1527.58 530.79,1528.8 528.74,1529.62 528.74,1531.7 530.54,1531 532.54,1529.88 534.41,1528.45" fill="#000"/><text x="539.94" y="1543" font-size="25">0</text><text x="553.84" y="1543" font-size="25">0</text>
<text x="652.78" y="1543" font-size="25">3</text><text x="666.68" y="1543" font-size="25">0</text><text x="680.58" y="1543" font-size="25">0</text>
<text x="420" y="1591.7" text-anchor="middle" font-size="29" font-weight="bold">Endosulfan (µM)</text>
</svg></body></html>
